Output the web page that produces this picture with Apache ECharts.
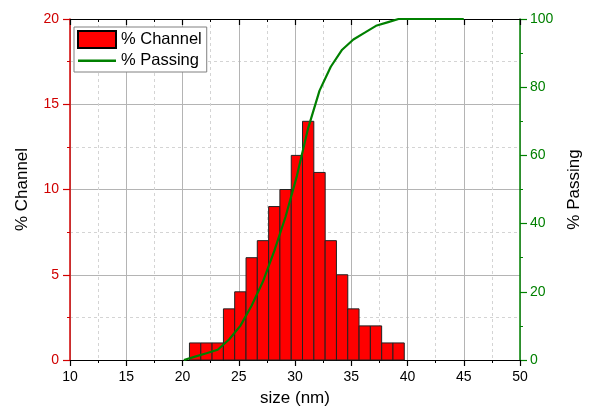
<!DOCTYPE html>
<html>
<head>
<meta charset="utf-8">
<title>size distribution</title>
<script src="https://cdn.jsdelivr.net/npm/echarts@6/dist/echarts.min.js"></script>
<style type="text/css">
html, body { margin: 0; padding: 0; background: #fff; }
#tx { width: 590px; height: 408px; }
</style>
</head>
<body>
<div id="tx"></div>
<script>
// bin centres (nm) and % in each bin
var sizes = [21.12, 22.13, 23.13, 24.14, 25.14, 26.15, 27.15, 28.16, 29.16, 30.17,
             31.17, 32.18, 33.18, 34.19, 35.19, 36.2, 37.2, 38.21, 39.21];
var channel = [1, 1, 1, 3, 4, 6, 7, 9, 10, 12, 14, 11, 7, 5, 3, 2, 2, 1, 1];
var binW = 1.005;

// cumulative curve
var passX = [20.12, 21.12, 22.13, 23.13, 24.14, 25.14, 26.15, 27.15, 28.16, 29.16, 30.17,
             31.17, 32.18, 33.18, 34.19, 35.19, 36.2, 37.2, 38.21, 39.21, 45];
var passY = [0, 1, 2, 3, 6, 10, 16, 23, 32, 42, 54, 68, 79, 86, 91, 94, 96, 98, 99, 100, 100];

var xTicks = [10, 50, 5];
var leftTicks = [0, 20, 5];
var rightTicks = [0, 100, 20];

var red = '#d00000', green = '#008000';
var font = 'Liberation Sans, Arial, sans-serif';

var myChart = echarts.init(document.getElementById('tx'));

var barData = sizes.map(function (s, i) { return [s, channel[i]]; });
var lineData = passX.map(function (s, i) { return [s, passY[i]]; });

// plain line for the legend (tiny corner dots keep the box 38x16)
var lineIcon = 'path://M0,7 L38,7 L38,9.4 L0,9.4 Z M0,0 L0.01,0 L0.01,0.01 Z M37.99,15.99 L38,15.99 L38,16 Z';

option = {
    animation: false,
    textStyle: { fontFamily: font },
    grid: { left: 70, right: 70, top: 19, bottom: 48, outerBoundsMode: 'none', containLabel: false },
    legend: {
        orient: 'vertical',
        left: 74, top: 27,
        padding: [3, 5, 3, 3],
        itemGap: 4,
        itemGap: 3,
        itemWidth: 38, itemHeight: 17,
        backgroundColor: '#fff',
        borderColor: '#808080', borderWidth: 1,
        textStyle: { fontSize: 16.5, color: '#000', fontFamily: font },
        data: [
            { name: '% Channel', icon: 'rect' },
            { name: '% Passing', icon: lineIcon, itemStyle: { color: green, borderWidth: 0 } }
        ]
    },
    xAxis: [{
        type: 'value', min: xTicks[0], max: xTicks[1], interval: xTicks[2],
        name: 'size (nm)', nameLocation: 'middle', nameGap: 30,
        nameTextStyle: { fontSize: 17, color: '#000' },
        axisLine: { show: true, onZero: false, lineStyle: { color: '#000', width: 1.2 } },
        axisTick: { show: true, inside: false, length: 6, lineStyle: { color: '#000', width: 1.2 } },
        minorTick: { show: true, splitNumber: 2, length: 3, lineStyle: { color: '#000' } },
        axisLabel: { fontSize: 14, color: '#000', margin: 10 },
        splitLine: { show: true, lineStyle: { color: '#b4b4b4', width: 1 } },
        minorSplitLine: { show: true, lineStyle: { color: '#d4d4d4', type: [3, 3] } }
    }, {
        type: 'value', position: 'top', min: xTicks[0], max: xTicks[1], interval: xTicks[2],
        axisLine: { show: true, onZero: false, lineStyle: { color: '#000', width: 1.2 } },
        axisTick: { show: true, inside: true, length: 6, lineStyle: { color: '#000', width: 1.2 } },
        minorTick: { show: true, splitNumber: 2, length: 3, lineStyle: { color: '#000' } },
        axisLabel: { show: false },
        splitLine: { show: false }
    }],
    yAxis: [{
        type: 'value', position: 'left', min: leftTicks[0], max: leftTicks[1], interval: leftTicks[2],
        name: '% Channel', nameLocation: 'middle', nameGap: 39,
        nameTextStyle: { fontSize: 17, color: '#000' },
        axisLine: { show: true, onZero: false, lineStyle: { color: red, width: 1.5 } },
        axisTick: { show: true, inside: false, length: 7, lineStyle: { color: red, width: 1.2 } },
        minorTick: { show: true, splitNumber: 2, length: 3, lineStyle: { color: red } },
        axisLabel: { fontSize: 14, color: red, margin: 11 },
        splitLine: { show: true, lineStyle: { color: '#b4b4b4', width: 1 } },
        minorSplitLine: { show: true, lineStyle: { color: '#d4d4d4', type: [3, 3] } }
    }, {
        type: 'value', position: 'right', min: rightTicks[0], max: rightTicks[1], interval: rightTicks[2],
        name: '% Passing', nameLocation: 'middle', nameGap: 46,
        nameTextStyle: { fontSize: 17, color: '#000' },
        axisLine: { show: true, onZero: false, lineStyle: { color: green, width: 1.5 } },
        axisTick: { show: true, inside: false, length: 7, lineStyle: { color: green, width: 1.2 } },
        minorTick: { show: true, splitNumber: 2, length: 3, lineStyle: { color: green } },
        axisLabel: { fontSize: 14, color: green, margin: 10 },
        splitLine: { show: false }
    }],
    series: [{
        name: '% Channel',
        type: 'custom',
        xAxisIndex: 0, yAxisIndex: 0,
        itemStyle: { color: '#ff0000', borderColor: '#000', borderWidth: 1 },
        encode: { x: 0, y: 1 },
        data: barData,
        z: 3,
        renderItem: function (params, api) {
            var x = api.value(0), y = api.value(1);
            var p0 = api.coord([x - binW / 2, y]);
            var p1 = api.coord([x + binW / 2, 0]);
            return {
                type: 'rect',
                shape: { x: p0[0], y: p0[1], width: p1[0] - p0[0], height: p1[1] - p0[1] },
                style: { fill: '#ff0000', stroke: '#222', lineWidth: 1 }
            };
        }
    }, {
        name: '% Passing',
        type: 'line',
        xAxisIndex: 0, yAxisIndex: 1,
        symbol: 'none',
        color: green,
        lineStyle: { color: green, width: 2.2 },
        data: lineData,
        z: 4
    }]
};
myChart.setOption(option);
</script>
</body>
</html>
